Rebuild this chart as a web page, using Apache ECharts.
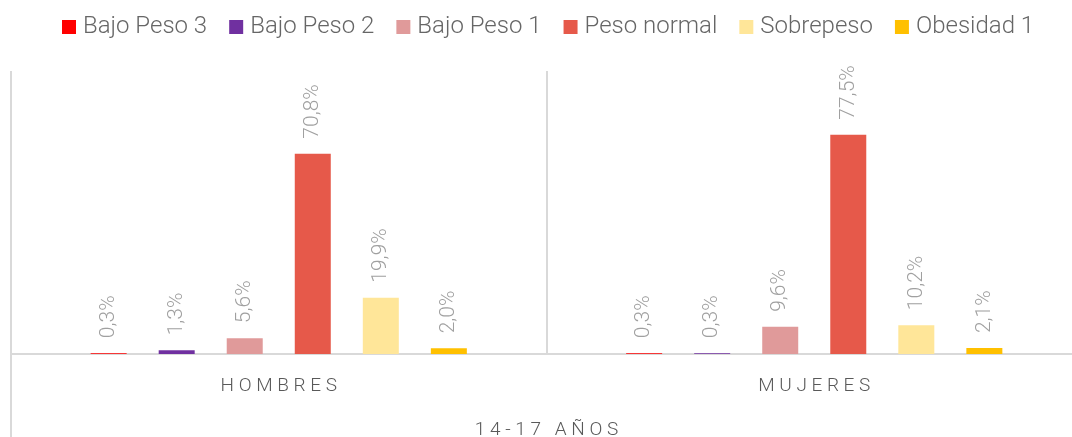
<!DOCTYPE html>
<html>
<head>
<meta charset="utf-8">
<script src="https://cdn.jsdelivr.net/npm/echarts@6/dist/echarts.min.js"></script>
<style>
	html, body { margin: 0; padding: 0; background: #fff; }
	#chart { width: 1072px; height: 437px; }
</style>
</head>
<body>
<div id="chart"></div>
<script>
	var categories = ['HOMBRES', 'MUJERES'];
	var groupLabel = ['14-17 AÑOS'];
	var seriesNames = ['Bajo Peso 3', 'Bajo Peso 2', 'Bajo Peso 1', 'Peso normal', 'Sobrepeso', 'Obesidad 1'];
	var bajoPeso3 = [0.3, 0.3];
	var bajoPeso2 = [1.3, 0.3];
	var bajoPeso1 = [5.6, 9.6];
	var pesoNormal = [70.8, 77.5];
	var sobrepeso = [19.9, 10.2];
	var obesidad1 = [2.0, 2.1];
	var colorList = ['#ff0000', '#7030a0', '#e09a9a', '#e6594a', '#ffe699', '#ffc000'];

	/* letras espaciadas como en el original */
	function spaced(text) {
		return text.split('').join(' ');
	}

	function createSeries(values) {
		var result = [];
		for (var i = 0; i < values.length; i++) {
			result.push({
				name: seriesNames[i],
				type: 'bar',
				barWidth: 36,
				barGap: '89%',
				itemStyle: { color: colorList[i] },
				data: values[i],
				label: {
					show: true,
					position: 'top',
					rotate: 90,
					align: 'left',
					verticalAlign: 'middle',
					distance: 15,
					fontFamily: 'Roboto',
					fontWeight: 300,
					fontSize: 21,
					color: '#a0a0a0',
					formatter: function(p) {
						return p.value.toFixed(1).replace('.', ',') + '%';
					}
				}
			});
		}
		return result;
	}

	var option = {
		backgroundColor: '#ffffff',
		animation: false,
		textStyle: { fontFamily: 'Roboto' },
		legend: {
			top: 10,
			left: 57,
			icon: 'rect',
			itemWidth: 14,
			itemHeight: 14,
			itemGap: 22,
			textStyle: {
				fontFamily: 'Roboto',
				fontWeight: 300,
				fontSize: 24,
				color: '#666666',
				padding: [0, 0, 0, 2]
			},
			data: seriesNames
		},
		grid: {
			left: 11,
			top: 71,
			width: 1071,
			bottom: 83,
			containLabel: false,
			outerBoundsMode: 'none'
		},
		xAxis: [{
			type: 'category',
			data: categories,
			axisLine: { lineStyle: { color: '#d9d9d9', width: 2 } },
			axisTick: { show: false },
			splitLine: {
				show: true,
				interval: 0,
				lineStyle: { color: '#d9d9d9', width: 2 }
			},
			axisLabel: {
				margin: 23,
				fontFamily: 'Roboto',
				fontWeight: 300,
				fontSize: 19,
				color: '#595959',
				formatter: spaced
			}
		}, {
			type: 'category',
			data: groupLabel,
			position: 'bottom',
			axisLine: { show: false },
			axisTick: {
				show: true,
				length: 83,
				lineStyle: { color: '#d9d9d9', width: 2 }
			},
			axisLabel: {
				margin: 67,
				fontFamily: 'Roboto',
				fontWeight: 300,
				fontSize: 19,
				color: '#595959',
				formatter: spaced
			}
		}],
		yAxis: {
			type: 'value',
			min: 0,
			max: 100,
			show: false
		},
		series: createSeries([bajoPeso3, bajoPeso2, bajoPeso1, pesoNormal, sobrepeso, obesidad1])
	};

	var chart = echarts.init(document.getElementById('chart'));
	chart.setOption(option);
</script>
</body>
</html>
